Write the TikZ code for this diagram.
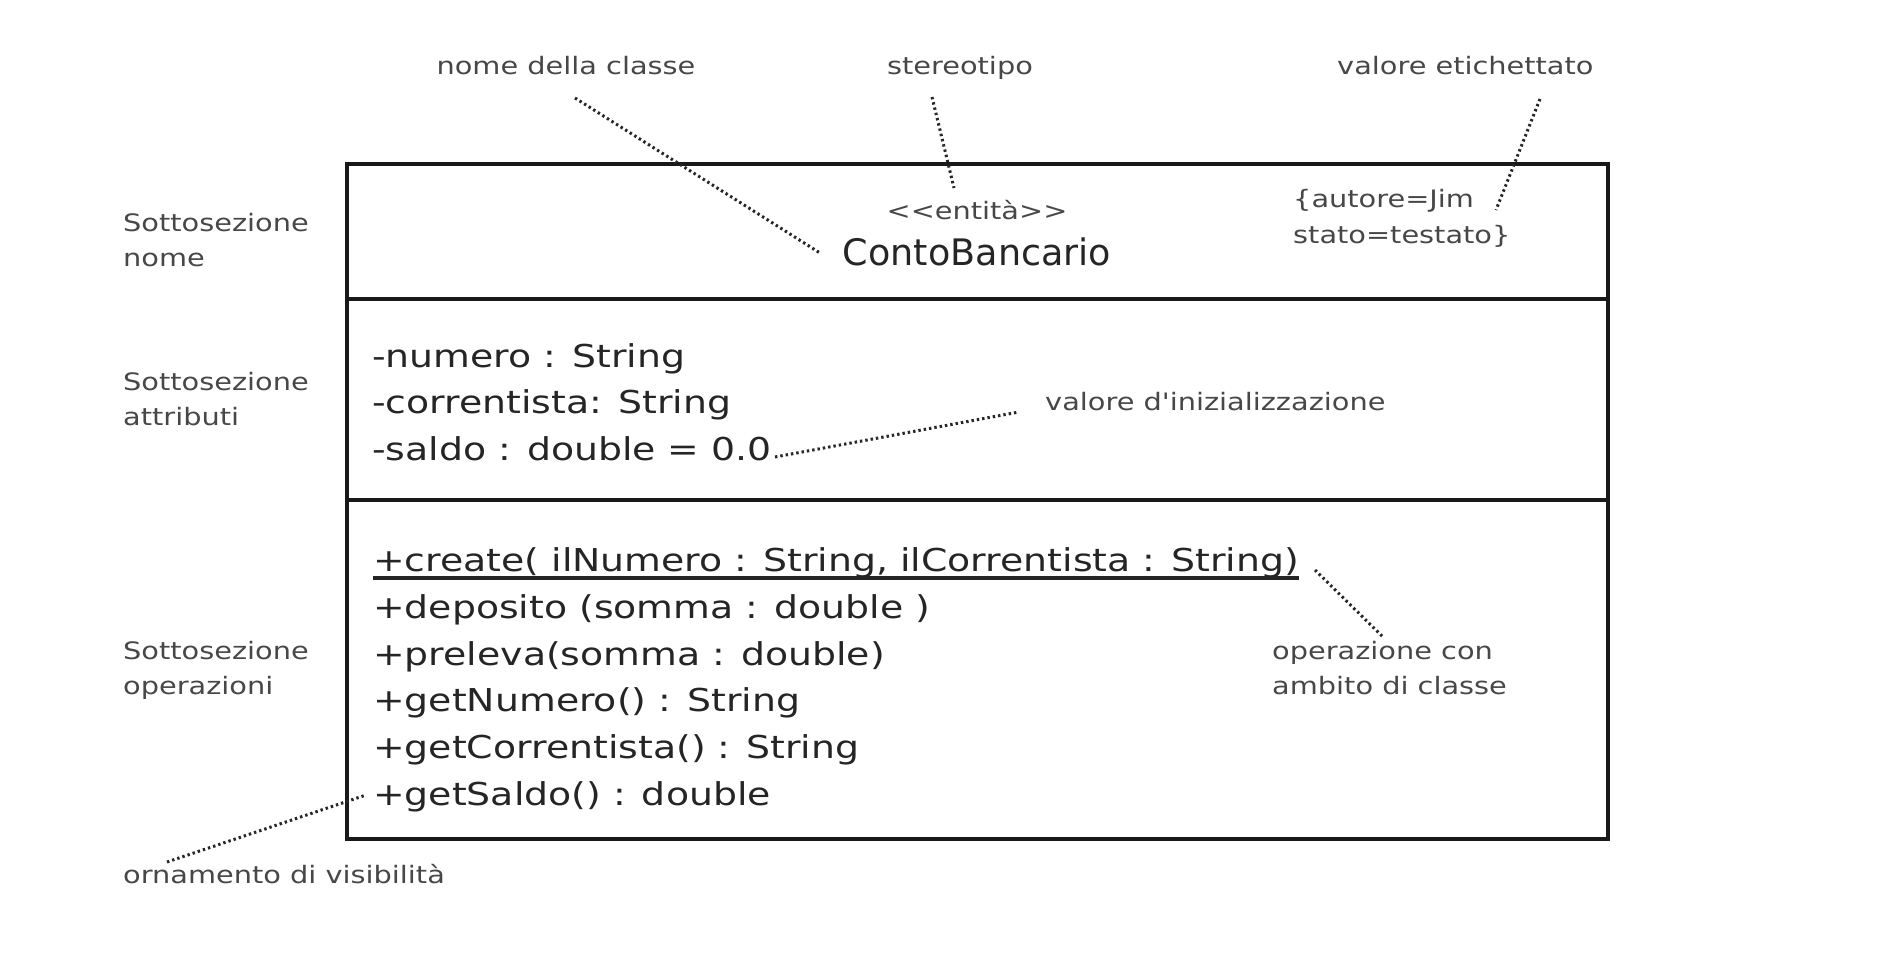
\documentclass[tikz,border=0pt]{standalone}
\usepackage{fontspec}
\setmainfont{DejaVu Sans}[FakeStretch=1.2, Ligatures=TeXOff]
\newfontfamily\plainsans{DejaVu Sans}[Ligatures=TeXOff]
\definecolor{lblc}{HTML}{474747}
\definecolor{txtc}{HTML}{252525}
\begin{document}
\begin{tikzpicture}[x=1pt,y=-1pt,
  lbl/.style={font=\fontsize{24}{35}\selectfont, text=lblc, inner sep=0pt, anchor=base west},
  cls/.style={font=\fontsize{31.5}{46.8}\selectfont, text=txtc, inner sep=0pt, anchor=base west},
  leader/.style={line width=3pt, dash pattern=on 2.4pt off 3pt, black!85},
  frame/.style={line width=3.4pt, black!90}]
\useasboundingbox[fill=white] (0,0) rectangle (1904,976);

% class frame
\draw[frame] (347,164) rectangle (1608,839);
\draw[frame] (347,299) -- (1608,299);
\draw[frame] (347,500) -- (1608,500);

% name compartment
\node[lbl, anchor=base] (stereo) at (977,220) {<<entità>>};
\node[inner sep=0pt, anchor=base, font=\plainsans\fontsize{36.5}{40}\selectfont, text=txtc] (cname) at (977,266) {ContoBancario};
\node[lbl] (tag1) at (1293,208) {\{autore=Jim};
\node[lbl] (tag2) at (1293,244) {stato=testato\}};

% attributes
\node[cls] (a1) at (372,367) {-numero : String};
\node[cls] (a2) at (372,413) {-correntista: String};
\node[cls] (a3) at (372,460) {-saldo : double = 0.0};

% operations
\node[cls] (o1) at (373,571) {+create( ilNumero : String, ilCorrentista : String)};
\node[cls] (o2) at (373,618) {+deposito (somma : double )};
\node[cls] (o3) at (373,665) {+preleva(somma : double)};
\node[cls] (o4) at (373,711) {+getNumero() : String};
\node[cls] (o5) at (373,758) {+getCorrentista() : String};
\node[cls] (o6) at (373,805) {+getSaldo() : double};
\draw[line width=3.2pt, txtc] ([yshift=-7pt]o1.base west) -- ([yshift=-7pt]o1.base east);

% side labels
\node[lbl] (s1a) at (123,232) {Sottosezione};
\node[lbl] (s1b) at (123,267) {nome};
\node[lbl] (s2a) at (123,390) {Sottosezione};
\node[lbl] (s2b) at (123,425) {attributi};
\node[lbl] (s3a) at (123,659) {Sottosezione};
\node[lbl] (s3b) at (123,694) {operazioni};

% annotation labels
\node[lbl, anchor=base] (lname) at (566,75) {nome della classe};
\node[lbl, anchor=base] (lstereo) at (960,75) {stereotipo};
\node[lbl] (ltag) at (1337,75) {valore etichettato};
\node[lbl] (linit) at (1045,410) {valore d'inizializzazione};
\node[lbl] (lop1) at (1272,659) {operazione con};
\node[lbl] (lop2) at (1272,694) {ambito di classe};
\node[lbl] (lvis) at (123,883) {ornamento di visibilità};

% leader end points
\coordinate (p1a) at (575,98);   \coordinate (p1b) at (820,253);
\coordinate (p2a) at (932,97);   \coordinate (p2b) at (954,188);
\coordinate (p3a) at (1540,99);  \coordinate (p3b) at (1496,210);
\coordinate (p4a) at (775,457);  \coordinate (p4b) at (1019,412);
\coordinate (p5a) at (1315,570); \coordinate (p5b) at (1383,637);
\coordinate (p6a) at (167,862);  \coordinate (p6b) at (366,795);

\draw[leader] (p1a) -- (p1b);
\draw[leader] (p2a) -- (p2b);
\draw[leader] (p3a) -- (p3b);
\draw[leader] (p4a) -- (p4b);
\draw[leader] (p5a) -- (p5b);
\draw[leader] (p6a) -- (p6b);
\end{tikzpicture}
\end{document}
